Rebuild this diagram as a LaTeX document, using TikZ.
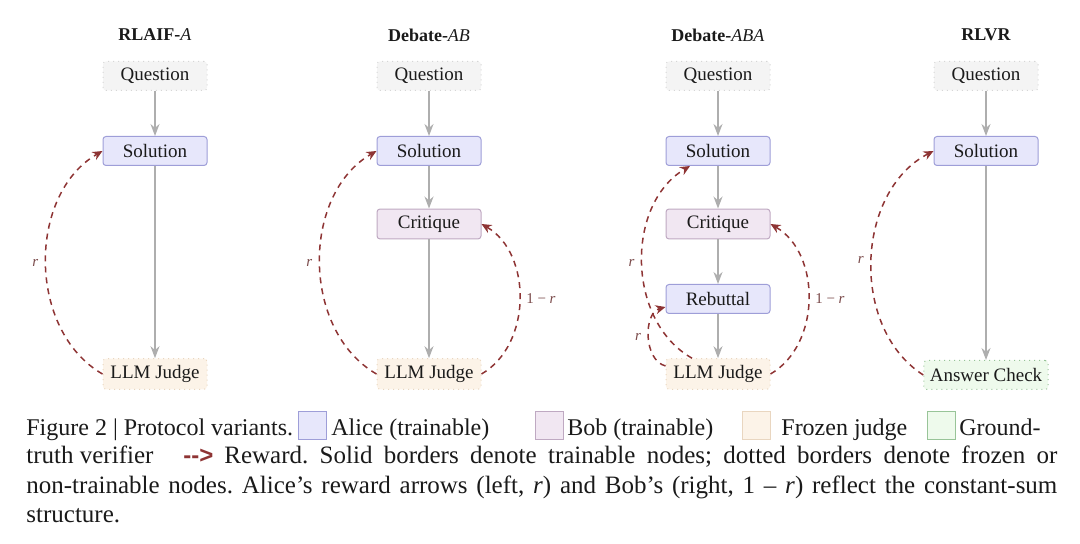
\documentclass[tikz,border=0pt]{standalone}
\usepackage{fontspec}
\setmainfont{Liberation Serif}
\newfontfamily\legsans{Liberation Sans}
\usepackage{xcolor}
\usepackage{tikz}
\usetikzlibrary{positioning, arrows.meta}

\definecolor{alicefill}{HTML}{E7E7FB}
\definecolor{aliceline}{HTML}{9E9ED8}
\definecolor{bobfill}{HTML}{F1E7F2}
\definecolor{bobline}{HTML}{BFA9C2}
\definecolor{judgefill}{HTML}{FCF3E8}
\definecolor{judgeline}{HTML}{E9D6C0}
\definecolor{checkfill}{HTML}{EEFAEC}
\definecolor{checkline}{HTML}{98C498}
\definecolor{qfill}{HTML}{F4F4F4}
\definecolor{qline}{HTML}{D6D6D6}
\definecolor{flowgray}{HTML}{AEAEAE}
\definecolor{rewardred}{HTML}{8E3434}
\definecolor{labelred}{HTML}{7A4A4A}
\definecolor{inkblack}{HTML}{1A1A1A}

\tikzset{
    box/.style = {rectangle, rounded corners = 1.5pt, minimum width = 52pt, minimum height = 14.5pt, inner xsep = 3pt, line width = 0.5pt, text = inkblack, font = \fontsize{9.5}{11}\selectfont},
    alice/.style = {box, draw = aliceline, fill = alicefill},
    bob/.style = {box, draw = bobline, fill = bobfill},
    frozen/.style = {box, draw = qline, fill = qfill, dotted},
    judge/.style = {box, draw = judgeline, fill = judgefill, dotted},
    check/.style = {box, draw = checkline, fill = checkfill, dotted},
    flow/.style = {draw = flowgray, line width = 0.75pt, -{Stealth[length = 6pt, width = 4.5pt]}},
    reward/.style = {draw = rewardred, line width = 0.75pt, dash pattern = on 3pt off 2.5pt, -{Stealth[length = 5pt, width = 4.5pt]}},
    rlabel/.style = {text = labelred, inner sep = 0pt, font = \fontsize{7.5}{9}\selectfont},
    title/.style = {text = inkblack, font = \fontsize{9}{11}\selectfont},
    legbox/.style = {rectangle, minimum width = 14pt, minimum height = 14pt, inner sep = 0pt, line width = 0.5pt},
    capline/.style = {anchor = base west, inner sep = 0pt, text = inkblack, font = \fontsize{12.5}{15}\selectfont\frenchspacing},
    capfirst/.style = {capline, font = \fontsize{12}{14.5}\selectfont\frenchspacing}
}

\begin{document}
\begin{tikzpicture}[x = 0.5pt, y = -0.5pt]
    \useasboundingbox (0, 0) rectangle (1080, 544);

    \node [title] (t1) at (155, 35) {\textbf{RLAIF-}\textit{A}};
    \node [title] (t2) at (429, 35) {\textbf{Debate-}\textit{AB}};
    \node [title] (t3) at (718, 35) {\textbf{Debate-}\textit{ABA}};
    \node [title] (t4) at (986, 35) {\textbf{RLVR}};

    % RLAIF-A
    \node [frozen] (q1) at (155, 76) {Question};
    \node [alice] (s1) at (155, 151) {Solution};
    \node [judge] (j1) at (155, 374) {LLM Judge};
    \draw [flow] (q1) -- (s1);
    \draw [flow] (s1) -- (j1);
    \draw [reward] (j1.west) to [bend left = 60] node [rlabel, left = 3.5pt] {\textit{r}} (s1.west);

    % Debate-AB
    \node [frozen] (q2) at (429, 76) {Question};
    \node [alice] (s2) at (429, 151) {Solution};
    \node [bob] (c2) at (429, 224) {Critique};
    \node [judge] (j2) at (429, 374) {LLM Judge};
    \draw [flow] (q2) -- (s2);
    \draw [flow] (s2) -- (c2);
    \draw [flow] (c2) -- (j2);
    \draw [reward] (j2.west) to [bend left = 60] node [rlabel, left = 3.5pt] {\textit{r}} (s2.west);
    \draw [reward] (j2.east) to [bend right = 60] node [rlabel, right = 3pt] {1 − \textit{r}} (c2.east);

    % Debate-ABA
    \node [frozen] (q3) at (718, 76) {Question};
    \node [alice] (s3) at (718, 151) {Solution};
    \node [bob] (c3) at (718, 224) {Critique};
    \node [alice] (rb3) at (718, 299) {Rebuttal};
    \node [judge] (j3) at (718, 374) {LLM Judge};
    \draw [flow] (q3) -- (s3);
    \draw [flow] (s3) -- (c3);
    \draw [flow] (c3) -- (rb3);
    \draw [flow] (rb3) -- (j3);
    \draw [reward] ([xshift = -13pt] j3.north) to [bend left = 60] node [rlabel, left = 3.5pt] {\textit{r}} ([xshift = -14pt] s3.south);
    \draw [reward] ([yshift = 4pt] j3.west) to [bend left = 75] node [rlabel, left = 3.5pt] {\textit{r}} ([yshift = -4pt] rb3.west);
    \draw [reward] (j3.east) to [bend right = 60] node [rlabel, right = 3pt] {1 − \textit{r}} (c3.east);

    % RLVR
    \node [frozen] (q4) at (986, 76) {Question};
    \node [alice] (s4) at (986, 151) {Solution};
    \node [check] (a4) at (986, 375) {Answer Check};
    \draw [flow] (q4) -- (s4);
    \draw [flow] (s4) -- (a4);
    \draw [reward] (a4.west) to [bend left = 60] node [rlabel, left = 3.5pt] {\textit{r}} (s4.west);

    % caption
    \node [capfirst] (cap1) at (26, 436) {Figure 2 | Protocol variants.};
    \node [legbox, draw = aliceline, fill = alicefill] (lb1) at (312, 426) {};
    \node [capfirst] (la1) at (331, 436) {Alice (trainable)};
    \node [legbox, draw = bobline, fill = bobfill] (lb2) at (549, 426) {};
    \node [capfirst] (la2) at (567, 436) {Bob (trainable)};
    \node [legbox, draw = judgeline, fill = judgefill] (lb3) at (756, 426) {};
    \node [capfirst] (la3) at (781, 436) {Frozen judge};
    \node [legbox, draw = checkline, fill = checkfill] (lb4) at (941, 426) {};
    \node [capfirst] (la4) at (959, 436) {Ground-};
    \node [capline] (cap2) at (26, 464) {truth verifier};
    \node [capline, text = rewardred, font = \legsans\bfseries\fontsize{12}{14.5}\selectfont] (dash) at (183, 464) {-{}-{}>};
    \node [capline] (cap2b) at (224, 464) {\makebox[416.5pt][s]{Reward. Solid borders denote trainable nodes; dotted borders denote frozen or}};
    \node [capline] (cap3) at (26, 493) {\makebox[515.5pt][s]{non-trainable nodes. Alice’s reward arrows (left, \textit{r}) and Bob’s (right, 1 – \textit{r}) reflect the constant-sum}};
    \node [capline] (cap4) at (26, 522) {structure.};
\end{tikzpicture}
\end{document}
